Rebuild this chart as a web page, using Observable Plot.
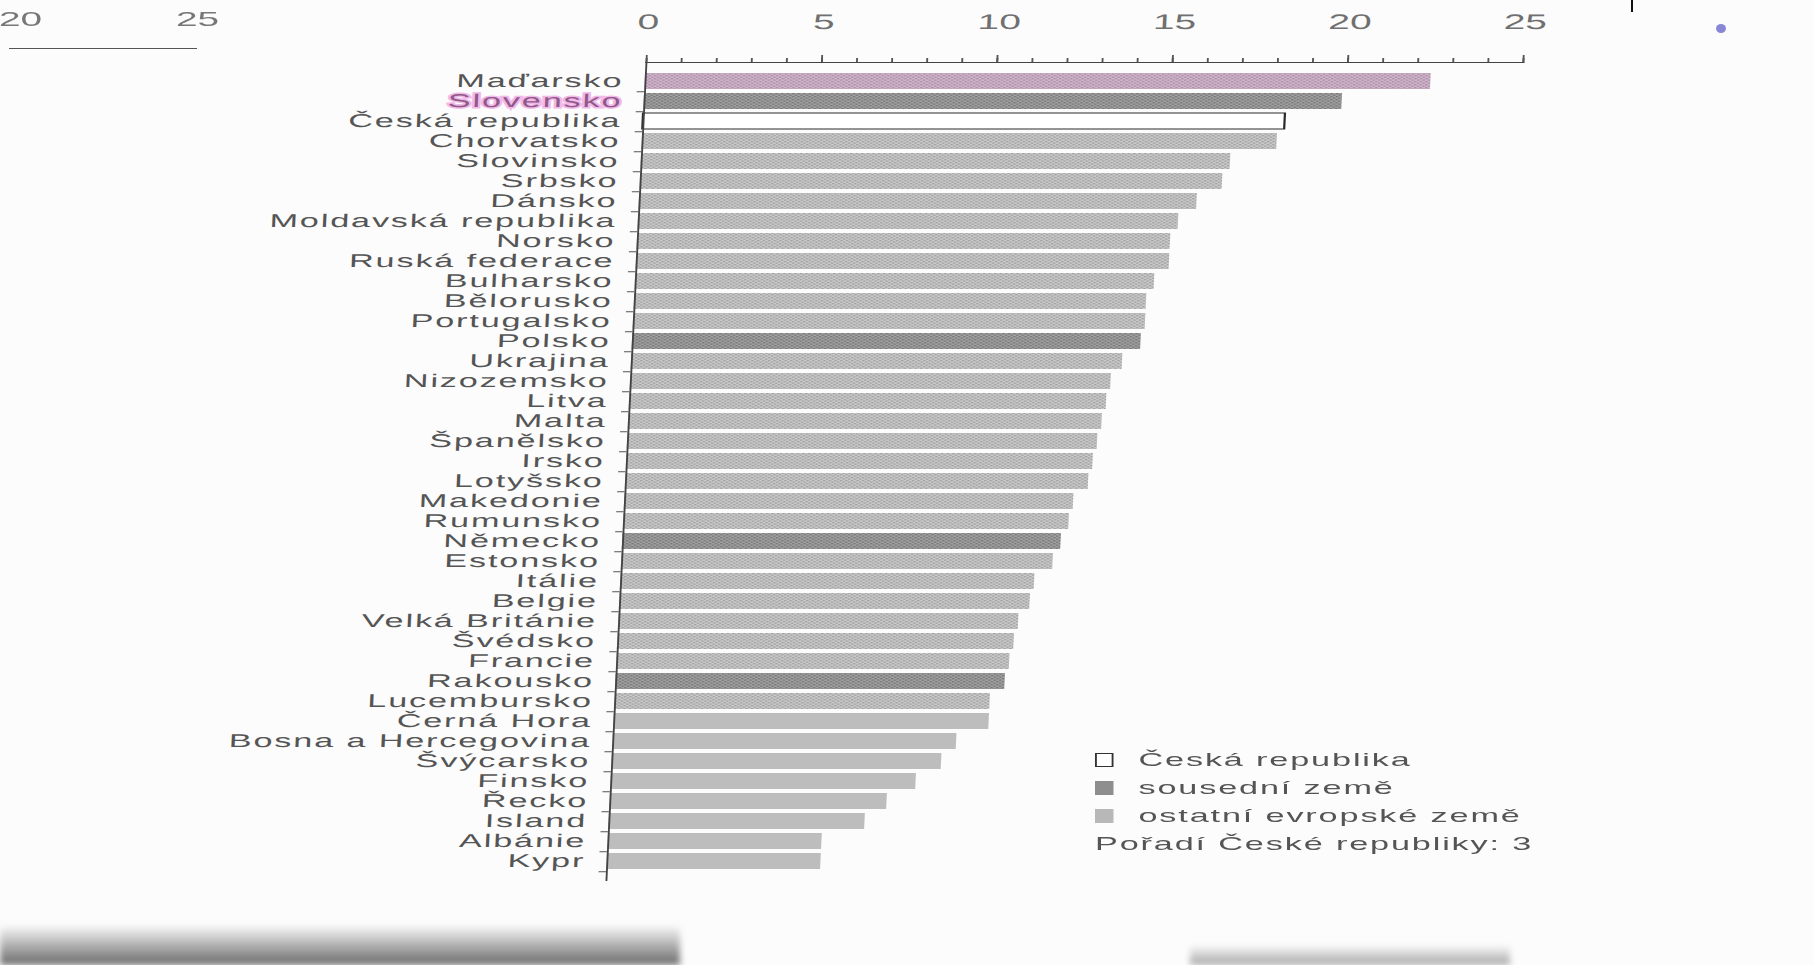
<!DOCTYPE html>
<html>
<head>
<meta charset="utf-8">
<script src="https://cdn.jsdelivr.net/npm/d3@7"></script>
<script src="https://cdn.jsdelivr.net/npm/@observablehq/plot@0.6"></script>
<style>
html, body { margin: 0; padding: 0; background: #fcfcfc; width: 1814px; height: 965px; overflow: hidden;
  font-family: "Liberation Sans", Arial, sans-serif; }
#wrap { position: absolute; left: 0; top: 0; width: 981px; height: 965px;
  transform-origin: 0 60px; transform: skewX(-2.8deg) scaleX(1.85); }
.stretch { position: absolute; transform-origin: 0 0; transform: scaleX(1.85); white-space: nowrap; color: #555; }
#legend { left: 1095px; top: 746px; font-size: 18.5px; letter-spacing: 1px; line-height: 28px; }
#legend .row { display: flex; align-items: center; }
#legend .sw { width: 9.5px; height: 14px; margin-right: 14px; box-sizing: border-box; }
.deco { position: absolute; }
</style>
</head>
<body>
<div class="stretch" style="left:-1px;top:7px;font-size:21px;color:#777">20</div>
<div class="stretch" style="left:176px;top:7px;font-size:21px;color:#777">25</div>
<div class="deco" style="left:9px;top:48px;width:188px;border-top:1.5px solid #555"></div>
<div class="deco" style="left:1631px;top:0;width:2px;height:12px;background:#111"></div>
<div class="deco" style="left:1716px;top:24px;width:10px;height:9px;border-radius:50%;background:#8a86d6"></div>
<div class="deco" style="left:0;top:925px;width:680px;height:40px;background:linear-gradient(to bottom, rgba(90,90,90,0) 0%, rgba(90,90,90,0.55) 60%, rgba(70,70,70,0.8) 100%);filter:blur(3px)"></div>
<div class="deco" style="left:1190px;top:945px;width:320px;height:20px;background:linear-gradient(to bottom, rgba(90,90,90,0) 0%, rgba(80,80,80,0.5) 100%);filter:blur(3px)"></div>
<div id="wrap"></div>
<div id="legend" class="stretch"></div>
<script>
// ---- data ----
const countries = [
  "Maďarsko", "Slovensko", "Česká republika", "Chorvatsko", "Slovinsko", "Srbsko", "Dánsko",
  "Moldavská republika", "Norsko", "Ruská federace", "Bulharsko", "Bělorusko", "Portugalsko",
  "Polsko", "Ukrajina", "Nizozemsko", "Litva", "Malta", "Španělsko", "Irsko", "Lotyšsko",
  "Makedonie", "Rumunsko", "Německo", "Estonsko", "Itálie", "Belgie", "Velká Británie",
  "Švédsko", "Francie", "Rakousko", "Lucembursko", "Černá Hora", "Bosna a Hercegovina",
  "Švýcarsko", "Finsko", "Řecko", "Island", "Albánie", "Kypr"
];
const values = [
  22.4, 19.9, 18.3, 18.1, 16.8, 16.6, 15.9, 15.4, 15.2, 15.2, 14.8, 14.6, 14.6,
  14.5, 14.0, 13.7, 13.6, 13.5, 13.4, 13.3, 13.2, 12.8, 12.7, 12.5, 12.3, 11.8,
  11.7, 11.4, 11.3, 11.2, 11.1, 10.7, 10.7, 9.8, 9.4, 8.7, 7.9, 7.3, 6.1, 6.1
];
const czech = "Česká republika";
const neighbours = ["Slovensko", "Polsko", "Německo", "Rakousko"];
const groupNames = ["Česká republika", "sousední země", "ostatní evropské země"];
const rankNote = "Pořadí České republiky: 3";
const majorTicks = [0, 5, 10, 15, 20, 25];
const minorTicks = [0, 1, 2, 3, 4, 5, 6, 7, 8, 9, 10, 11, 12, 13, 14, 15, 16, 17, 18, 19, 20, 21, 22, 23, 24, 25];

// ---- table ----
const rows = countries.map((c, i) => ({
  country: c, value: values[i], idx: i,
  group: c === czech ? groupNames[0] : neighbours.includes(c) ? groupNames[1] : groupNames[2]
}));

const H = 965, MT = 62, MB = 85;
const step = (H - MT - MB) / countries.length;

const others = rows.filter(d => d.group === groupNames[2]);
const chart = Plot.plot({
  width: 981, height: H,
  marginLeft: 349, marginRight: 158, marginTop: MT, marginBottom: MB,
  style: { background: "transparent", fontFamily: "Liberation Sans, Arial, sans-serif", color: "#555", overflow: "visible" },
  x: { domain: [0, 25], axis: null },
  y: { domain: countries, padding: 0.2, axis: null },
  marks: [
    Plot.barX(others.filter(d => d.idx === 0), { x: "value", y: "country", fill: "url(#pPink)" }),
    Plot.barX(others.filter(d => d.idx > 0 && d.idx < 32), { x: "value", y: "country", fill: "url(#pLight)" }),
    Plot.barX(others.filter(d => d.idx >= 32), { x: "value", y: "country", fill: "#bdbdbd" }),
    Plot.barX(rows.filter(d => d.group === groupNames[1]), { x: "value", y: "country", fill: "url(#pDark)" }),
    Plot.barX(rows.filter(d => d.group === groupNames[0]), { x: "value", y: "country", fill: "#ffffff", stroke: "#2a2a2a", strokeWidth: 1.2 }),
    Plot.axisX(minorTicks, { anchor: "top", tickSize: 5, tickFormat: () => "", stroke: "#555", label: null }),
    Plot.axisX(majorTicks, { anchor: "top", tickSize: 8, tickPadding: 26, fontSize: 21, stroke: "#555", label: null }),
    Plot.axisY({ tickSize: 0, tickPadding: 12, fontSize: 18.5, label: null }),
    Plot.axisY({ tickSize: 4, tickFormat: () => "", dy: step / 2, stroke: "#555", label: null }),
    Plot.frame({ anchor: "top", stroke: "#444" }),
    Plot.frame({ anchor: "left", stroke: "#444" })
  ]
});

// textures for the scanned bar fills
const svg = d3.select(chart);
const defs = svg.insert("defs", ":first-child");
function pat(id, base, dot) {
  const p = defs.append("pattern").attr("id", id).attr("patternUnits", "userSpaceOnUse").attr("width", 3).attr("height", 3);
  p.append("rect").attr("width", 3).attr("height", 3).attr("fill", base);
  p.append("rect").attr("width", 1.3).attr("height", 1.3).attr("fill", dot);
  p.append("rect").attr("x", 1.5).attr("y", 1.5).attr("width", 1.3).attr("height", 1.3).attr("fill", dot);
}
pat("pLight", "#c8c8c8", "#a2a2a2");
pat("pDark", "#a0a0a0", "#787878");
pat("pPink", "#d0b4cc", "#ab8fa7");

svg.selectAll('g[aria-label="y-axis tick label"] text').attr("letter-spacing", "1px");
svg.selectAll("text").each(function() {
  const t = d3.select(this);
  if (t.text() === "Slovensko") {
    t.attr("fill", "#8e5a86").attr("stroke", "#f2b8ea").attr("stroke-width", 3).attr("paint-order", "stroke");
  }
});
svg.selectAll('g[aria-label="x-axis tick label"] text').attr("fill", "#707070");

document.getElementById("wrap").appendChild(chart);

// legend
const legend = d3.select("#legend");
const swStyles = [
  "background:#fff;border:1.2px solid #333",
  "background:#8e8e8e",
  "background:#b8b8b8"
];
groupNames.forEach((g, i) => {
  const r = legend.append("div").attr("class", "row");
  r.append("div").attr("class", "sw").attr("style", swStyles[i]);
  r.append("span").text(g);
});
legend.append("div").attr("class", "row").text(rankNote);
</script>
</body>
</html>
